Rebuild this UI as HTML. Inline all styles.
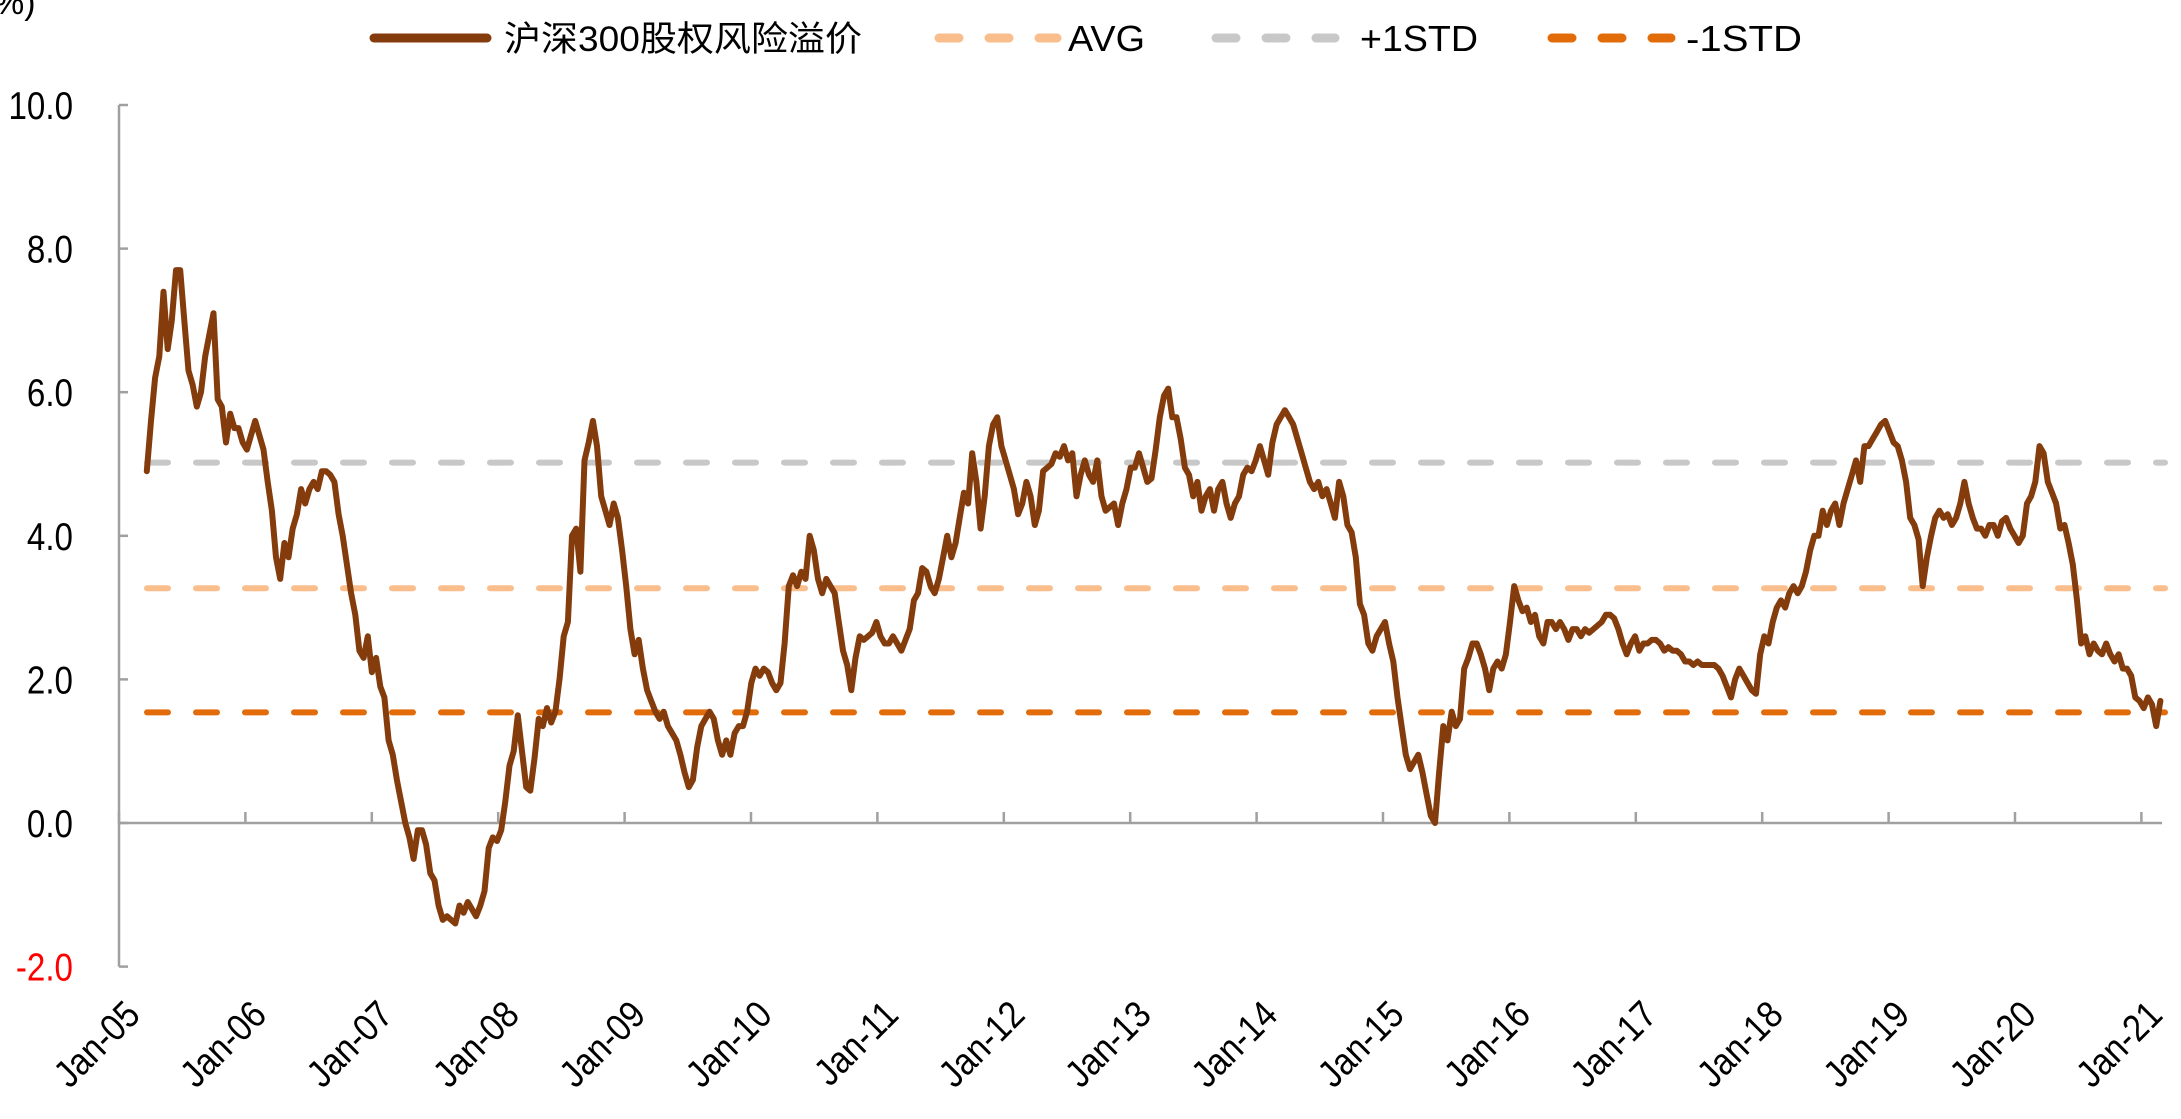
<!DOCTYPE html>
<html><head><meta charset="utf-8">
<style>
html,body{margin:0;padding:0;background:#fff;}
svg{display:block;}
text{font-family:"Liberation Sans","Noto Sans CJK SC",sans-serif;}
</style></head>
<body>
<svg id="chart" width="2181" height="1119" viewBox="0 0 2181 1119" xmlns="http://www.w3.org/2000/svg">
  <text x="-6" y="14" font-size="34" fill="#000">%)</text>
  <g id="legend">
    <g>
      <line x1="374" y1="38" x2="487" y2="38" stroke="#843C0C" stroke-width="9" stroke-linecap="round"/>
      <text x="504" y="51" font-size="35" textLength="358" lengthAdjust="spacingAndGlyphs">沪深300股权风险溢价</text>
    </g>
    <g>
      <line x1="939" y1="38" x2="1057" y2="38" stroke="#F9BE8C" stroke-width="9" stroke-linecap="round" stroke-dasharray="20 30"/>
      <text x="1068" y="51" font-size="36" textLength="77" lengthAdjust="spacingAndGlyphs">AVG</text>
    </g>
    <g>
      <line x1="1216" y1="38" x2="1335" y2="38" stroke="#C8C8C8" stroke-width="9" stroke-linecap="round" stroke-dasharray="20 30"/>
      <text x="1360" y="51" font-size="36" textLength="118" lengthAdjust="spacingAndGlyphs">+1STD</text>
    </g>
    <g>
      <line x1="1552" y1="38" x2="1671" y2="38" stroke="#E36C0A" stroke-width="9" stroke-linecap="round" stroke-dasharray="20 30"/>
      <text x="1686" y="51" font-size="36" textLength="116" lengthAdjust="spacingAndGlyphs">-1STD</text>
    </g>
  </g>
  <g id="axes"></g>
  <g id="refs"></g>
  <g id="series"></g>
</svg>
<script>
const yTicks = [10, 8, 6, 4, 2, 0, -2];
const yTickLabels = ["10.0","8.0","6.0","4.0","2.0","0.0","-2.0"];
const xTickYears = [2005,2006,2007,2008,2009,2010,2011,2012,2013,2014,2015,2016,2017,2018,2019,2020,2021];
const xTickLabels = ["Jan-05","Jan-06","Jan-07","Jan-08","Jan-09","Jan-10","Jan-11","Jan-12","Jan-13","Jan-14","Jan-15","Jan-16","Jan-17","Jan-18","Jan-19","Jan-20","Jan-21"];
const avgValue = 3.27;
const plusStdValue = 5.02;
const minusStdValue = 1.54;
const startYear = 2005.22;
const endYear = 2021.15;
const erpValues = [
4.9,5.6,6.2,6.5,7.4,6.6,7.0,7.7,7.7,7.0,6.3,6.1,5.8,6.0,6.5,6.8,7.1,5.9,5.8,5.3,5.7,
5.5,5.5,5.3,5.2,5.4,5.6,5.4,5.2,4.75,4.35,
3.7,3.4,3.9,3.7,4.1,4.3,4.65,4.45,4.65,4.75,4.65,4.9,4.9,4.85,4.75,4.3,4.0,3.6,3.2,2.9,2.4,2.3,2.6,2.1,2.3,1.9,1.75,1.15,0.95,0.6,0.3,0.0,-0.2,-0.5,-0.1,-0.1,-0.3,-0.7,-0.8,-1.15,-1.35,-1.3,-1.35,-1.4,-1.15,-1.25,-1.1,-1.2,-1.3,-1.15,-0.95,-0.35,-0.2,-0.25,-0.1,0.3,0.8,1.0,1.5,1.0,0.5,0.45,0.9,1.45,1.35,1.6,1.4,1.55,2.0,2.6,2.8,4.0,4.1,3.5,5.05,5.3,5.6,5.25,4.55,4.35,4.15,4.45,4.25,3.8,3.3,2.7,2.35,2.55,2.15,1.85,1.7,1.55,1.45,1.55,1.35,1.25,1.15,0.95,0.7,0.5,0.6,1.05,1.35,1.45,1.55,1.45,1.15,0.95,1.15,0.95,1.25,1.35,1.35,1.55,1.95,2.15,2.05,2.15,2.1,1.95,1.85,1.95,2.5,3.3,3.45,3.3,3.5,3.4,4.0,3.8,3.4,3.2,3.4,3.3,3.2,2.8,2.4,2.2,1.85,2.3,2.6,2.55,2.6,2.65,2.8,2.6,2.5,2.5,2.6,2.5,2.4,2.55,2.7,3.1,3.2,3.55,3.5,3.3,3.2,3.4,3.7,4.0,3.7,3.9,4.25,4.6,4.45,5.15,4.75,4.1,4.55,5.25,5.55,5.65,5.25,5.05,4.85,4.65,4.3,4.45,4.75,4.55,4.15,4.35,4.9,4.95,5.0,5.15,5.1,5.25,5.05,5.15,4.55,4.85,5.05,4.85,4.75,5.05,4.55,4.35,4.4,4.45,4.15,4.45,4.65,4.95,4.95,5.15,4.95,4.75,4.8,5.2,5.65,5.95,6.05,5.65,5.65,5.35,4.95,4.85,4.55,4.75,4.35,4.55,4.65,4.35,4.65,4.75,4.45,4.25,4.45,4.55,4.85,4.95,4.9,5.05,5.25,5.05,4.85,5.3,5.55,5.65,5.75,5.65,5.55,5.35,5.15,4.95,4.75,4.65,4.75,4.55,4.65,4.45,4.25,4.75,4.55,4.15,4.05,3.7,3.05,2.9,2.5,2.4,2.6,2.7,2.8,2.5,2.25,1.75,1.35,0.95,0.75,0.85,0.95,0.7,0.4,0.1,0.0,0.7,1.35,1.15,1.55,1.35,1.45,2.15,2.3,2.5,2.5,2.35,2.15,1.85,2.15,2.25,2.15,2.35,2.8,3.3,3.1,2.95,3.0,2.8,2.9,2.6,2.5,2.8,2.8,2.7,2.8,2.7,2.55,2.7,2.7,2.6,2.7,2.65,2.7,2.75,2.8,2.9,2.9,2.85,2.7,2.5,2.35,2.5,2.6,2.4,2.5,2.5,2.55,2.55,2.5,2.4,2.45,2.4,2.4,2.35,2.25,2.25,2.2,2.25,2.2,2.2,2.2,2.2,2.15,2.05,1.9,1.75,2.0,2.15,2.05,1.95,1.85,1.8,2.35,2.6,2.5,2.8,3.0,3.1,3.0,3.2,3.3,3.2,3.3,3.5,3.8,4.0,4.0,4.35,4.15,4.35,4.45,4.15,4.45,4.65,4.85,5.05,4.75,5.25,5.25,5.35,5.45,5.55,5.6,5.45,5.3,5.25,5.05,4.75,4.25,4.15,3.95,3.3,3.7,4.0,4.25,4.35,4.25,4.3,4.15,4.25,4.45,4.75,4.45,4.25,4.1,4.1,4.0,4.15,4.15,4.0,4.2,4.25,4.1,4.0,3.9,4.0,4.45,4.55,4.75,5.25,5.15,4.75,4.6,4.45,4.1,4.15,3.9,3.6,3.1,2.5,2.6,2.35,2.5,2.4,2.35,2.5,2.35,2.25,2.35,2.15,2.15,2.05,1.75,1.7,1.6,1.75,1.65,1.35,1.7
];

const NS = "http://www.w3.org/2000/svg";
const X0 = 119, XPY = 126.4, Y0 = 823, YPU = 71.8;
function xScale(year){ return X0 + (year - 2005) * XPY; }
function yScale(v){ return Y0 - v * YPU; }
function mk(tag, attrs, parent){
  const el = document.createElementNS(NS, tag);
  for (const k in attrs) el.setAttribute(k, attrs[k]);
  parent.appendChild(el);
  return el;
}
function condense(el, f){
  const w = el.getComputedTextLength();
  el.setAttribute('textLength', (w * f).toFixed(1));
  el.setAttribute('lengthAdjust', 'spacingAndGlyphs');
}
const axes = document.getElementById('axes');
const refs = document.getElementById('refs');
const series = document.getElementById('series');
const axisColor = "#A0A0A0";

const yAxis = mk('line', {x1:X0, y1:yScale(10), x2:X0, y2:yScale(-2), stroke:axisColor, 'stroke-width':2.5}, axes);


yTicks.forEach((v, i) => {
  const t = mk('line', {x1:X0, y1:yScale(v), x2:X0+9, y2:yScale(v), stroke:axisColor, 'stroke-width':2.5}, axes);
  
  
  const lab = mk('text', {x:73, y:yScale(v)+14, 'font-size':39, 'text-anchor':'end', fill: v < 0 ? '#FF0000' : '#000'}, axes);
  lab.textContent = yTickLabels[i];
  
  
  condense(lab, 0.85);
});
const xAxis = mk('line', {x1:X0, y1:Y0, x2:2162, y2:Y0, stroke:axisColor, 'stroke-width':2.5}, axes);


xTickYears.forEach((yr, i) => {
  const x = xScale(yr);
  const t = mk('line', {x1:x, y1:Y0, x2:x, y2:Y0-11, stroke:axisColor, 'stroke-width':2.5}, axes);
  
  
  const ax = x + 23, ay = 1017;
  const lab = mk('text', {x:ax, y:ay, 'font-size':38, 'text-anchor':'end', fill:'#000', transform:'rotate(-45 ' + ax + ' ' + ay + ')'}, axes);
  lab.textContent = xTickLabels[i];
  
  
  condense(lab, 0.88);
});

function refLine(v, color, name){
  const l = mk('line', {x1:147, y1:yScale(v), x2:2165, y2:yScale(v), stroke:color, 'stroke-width':6, 'stroke-linecap':'round', 'stroke-dasharray':'21 28'}, refs);
  
  
}
refLine(plusStdValue, '#C8C8C8', 'plus-1std-line');
refLine(avgValue, '#F9BE8C', 'avg-line');
refLine(minusStdValue, '#E36C0A', 'minus-1std-line');

const n = erpValues.length;
const step = (endYear - startYear) / (n - 1);
let d = '';
erpValues.forEach((v, i) => {
  const x = xScale(startYear + i * step), y = yScale(v);
  d += (i ? 'L' : 'M') + x.toFixed(1) + ' ' + y.toFixed(1);
});
const path = mk('path', {d:d, fill:'none', stroke:'#843C0C', 'stroke-width':6, 'stroke-linejoin':'round', 'stroke-linecap':'round'}, series);


</script>
</body></html>
